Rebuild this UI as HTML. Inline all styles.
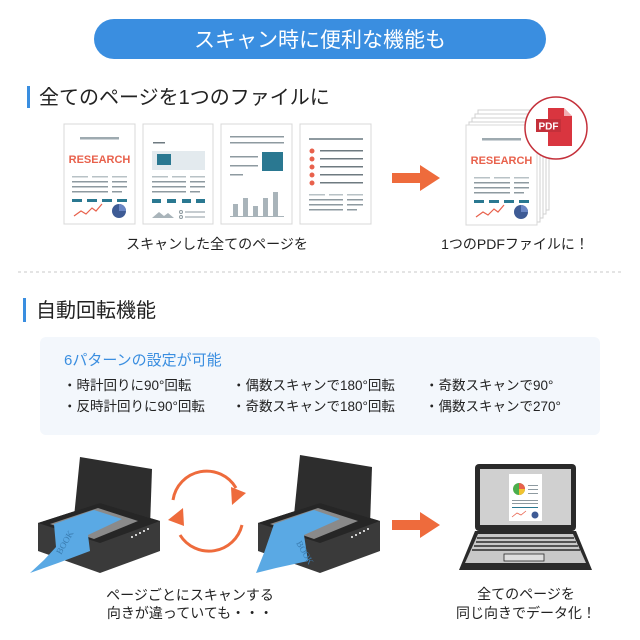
<!DOCTYPE html>
<html><head><meta charset="utf-8"><style>
body{margin:0;background:#fff;}
svg{display:block;font-family:"Liberation Sans","Noto Sans CJK JP",sans-serif;}
</style></head><body>
<svg width="640" height="640" viewBox="0 0 640 640" xmlns="http://www.w3.org/2000/svg">
<defs>
<g id="rdoc">
 <rect x="0" y="0" width="71" height="100" fill="#fff" stroke="#d8d8d8"/>
 <rect x="16" y="13" width="39" height="2.5" fill="#9eaab0"/>
 <text x="35.5" y="39" font-size="11" font-weight="bold" fill="#e8614c" text-anchor="middle" font-family="Liberation Sans,sans-serif">RESEARCH</text>
 <g fill="#b8c2c6"><rect x="8" y="52" width="16" height="1.5"/><rect x="28" y="52" width="16" height="1.5"/><rect x="48" y="52" width="15" height="1.5"/></g>
 <g fill="#8e9aa0"><rect x="8" y="57" width="36" height="1.5"/><rect x="48" y="57" width="15" height="1.5"/><rect x="8" y="62" width="36" height="1.5"/><rect x="48" y="62" width="15" height="1.5"/><rect x="8" y="67" width="36" height="1.5"/><rect x="48" y="67" width="10" height="1.5"/></g>
 <g fill="#2a7891"><rect x="8" y="75" width="10" height="3"/><rect x="23" y="75" width="10" height="3"/><rect x="38" y="75" width="10" height="3"/><rect x="53" y="75" width="10" height="3"/></g>
 <polyline points="10,92 17,87 22,90 28,84 32,87 38,80" fill="none" stroke="#e8614c" stroke-width="1.2"/>
 <circle cx="55" cy="87" r="7" fill="#3e5b95"/><path d="M55,80 A7,7 0 0 1 62,87 L55,87Z" fill="#6a86c4"/>
</g>
</defs>
<rect x="94" y="19" width="452" height="40" rx="20" fill="#3a8ee0"/>
<text x="320" y="47" font-size="21" fill="#fff" text-anchor="middle">スキャン時に便利な機能も</text>
<rect x="27" y="86" width="3" height="22" fill="#3a8ee0"/>
<text x="39" y="104" font-size="20" fill="#222">全てのページを1つのファイルに</text>
<use href="#rdoc" x="64" y="124"/>
<g transform="translate(143,124)">
 <rect width="70" height="100" fill="#fff" stroke="#d8d8d8"/>
 <rect x="10" y="18" width="12" height="1.5" fill="#6e7a80"/>
 <rect x="9" y="27" width="53" height="19" fill="#e3eaee"/><rect x="14" y="30" width="14" height="11" fill="#2a7891"/>
 <g fill="#b8c2c6"><rect x="9" y="52" width="16" height="1.5"/><rect x="29" y="52" width="14" height="1.5"/><rect x="47" y="52" width="15" height="1.5"/></g>
 <g fill="#8e9aa0"><rect x="9" y="57" width="34" height="1.5"/><rect x="47" y="57" width="15" height="1.5"/><rect x="9" y="62" width="34" height="1.5"/><rect x="47" y="62" width="15" height="1.5"/><rect x="9" y="67" width="34" height="1.5"/><rect x="47" y="67" width="10" height="1.5"/></g>
 <g fill="#2a7891"><rect x="9" y="75" width="9" height="4"/><rect x="24" y="75" width="9" height="4"/><rect x="39" y="75" width="9" height="4"/><rect x="53" y="75" width="9" height="4"/></g>
 <path d="M9,94 L16,88 L21,92 L25,89 L31,94Z" fill="#a9b4ba"/>
 <g fill="none" stroke="#8e9aa0"><circle cx="38" cy="88" r="1.5"/><circle cx="38" cy="93" r="1.5"/></g>
 <rect x="42" y="87.5" width="20" height="1" fill="#8e9aa0"/><rect x="42" y="92.5" width="20" height="1" fill="#8e9aa0"/>
</g>
<g transform="translate(221,124)">
 <rect width="71" height="100" fill="#fff" stroke="#d8d8d8"/>
 <rect x="9" y="12" width="54" height="1.5" fill="#8e9aa0"/><rect x="9" y="18" width="54" height="1.5" fill="#8e9aa0"/>
 <rect x="9" y="32" width="28" height="1.5" fill="#8e9aa0"/><rect x="9" y="41" width="28" height="1.5" fill="#8e9aa0"/><rect x="9" y="50" width="13" height="1.5" fill="#8e9aa0"/>
 <rect x="41" y="28" width="21" height="19" fill="#2a7891"/>
 <g fill="#a9b4ba"><rect x="12" y="80" width="5" height="12"/><rect x="22" y="74" width="5" height="18"/><rect x="32" y="82" width="5" height="10"/><rect x="42" y="74" width="5" height="18"/><rect x="52" y="68" width="5" height="24"/></g>
 <rect x="9" y="92" width="54" height="1" fill="#a9b4ba"/>
</g>
<g transform="translate(300,124)">
 <rect width="71" height="100" fill="#fff" stroke="#d8d8d8"/>
 <rect x="9" y="14" width="54" height="2" fill="#8e9aa0"/>
 <g fill="#e8614c"><circle cx="12" cy="27" r="2.5"/><circle cx="12" cy="35" r="2.5"/><circle cx="12" cy="43" r="2.5"/><circle cx="12" cy="51" r="2.5"/><circle cx="12" cy="59" r="2.5"/></g>
 <g fill="#6e7a80"><rect x="20" y="26" width="43" height="1.5"/><rect x="20" y="34" width="43" height="1.5"/><rect x="20" y="42" width="43" height="1.5"/><rect x="20" y="50" width="43" height="1.5"/><rect x="20" y="58" width="43" height="1.5"/></g>
 <g fill="#b8c2c6"><rect x="9" y="70" width="16" height="1.5"/><rect x="29" y="70" width="14" height="1.5"/><rect x="47" y="70" width="16" height="1.5"/></g>
 <g fill="#8e9aa0"><rect x="9" y="75" width="34" height="1.5"/><rect x="47" y="75" width="16" height="1.5"/><rect x="9" y="80" width="34" height="1.5"/><rect x="47" y="80" width="16" height="1.5"/><rect x="9" y="85" width="34" height="1.5"/><rect x="47" y="85" width="10" height="1.5"/></g>
</g>
<text x="217" y="249" font-size="14" fill="#222" text-anchor="middle">スキャンした全てのページを</text>
<path d="M392,173 L420,173 L420,165 L440,178 L420,191 L420,183 L392,183Z" fill="#ee6b3c"/>
<g fill="#fff" stroke="#d0d0d0">
 <rect x="478" y="110" width="71" height="100"/>
 <rect x="475" y="114" width="71" height="100"/>
 <rect x="472" y="118" width="71" height="100"/>
 <rect x="469" y="122" width="71" height="100"/>
</g>
<use href="#rdoc" x="466" y="125"/>
<circle cx="556" cy="128" r="31" fill="#fff" stroke="#c4303a" stroke-width="1.5"/>
<path d="M548,108 L564,108 L572,116 L572,146 L548,146Z" fill="#d9353f"/>
<path d="M564,108 L564,116 L572,116Z" fill="#fff" opacity="0.6"/>
<rect x="536" y="119" width="25" height="13" fill="#c4303a"/>
<text x="548.5" y="129.5" font-size="10" font-weight="bold" fill="#fff" text-anchor="middle" font-family="Liberation Sans,sans-serif">PDF</text>
<text x="515" y="249" font-size="14" fill="#222" text-anchor="middle">1つのPDFファイルに！</text>
<line x1="18" y1="272" x2="622" y2="272" stroke="#c8c8c8" stroke-dasharray="3,3"/>
<rect x="23" y="298" width="3" height="24" fill="#3a8ee0"/>
<text x="36" y="317" font-size="20" fill="#222">自動回転機能</text>
<rect x="40" y="337" width="560" height="98" rx="6" fill="#f3f7fc"/>
<text x="64" y="365" font-size="15" fill="#3a8ee0">6パターンの設定が可能</text>
<g font-size="13.5" fill="#222">
 <text x="63" y="390">・時計回りに90°回転</text>
 <text x="63" y="411">・反時計回りに90°回転</text>
 <text x="232" y="390">・偶数スキャンで180°回転</text>
 <text x="232" y="411">・奇数スキャンで180°回転</text>
 <text x="425" y="390">・奇数スキャンで90°</text>
 <text x="425" y="411">・偶数スキャンで270°</text>
</g>
<!-- printer 1 -->
<g transform="translate(36,455)">
 <path d="M44,2 L116,14 L114,72 L38,62Z" fill="#2d2d2d"/>
 <path d="M2,68 L64,48 L124,66 L124,96 L64,118 L2,96Z" fill="#3a3a3a"/>
 <path d="M2,68 L64,48 L124,66 L64,88Z" fill="#262626"/>
 <path d="M14,69 L62,53 L102,66 L58,84Z" fill="#8a8a8a"/>
 <path d="M18,69 L58,55 L86,64 L52,80 L54,96 L22,108 L-6,118 L8,105 L20,92Z" fill="#5aa9e4"/>
 <text x="25" y="100" font-size="9" fill="#3a7cb0" transform="rotate(-60 25 100)" font-family="Liberation Serif,serif">BOOK</text>
 <g fill="#fff"><circle cx="96" cy="82" r="1"/><circle cx="100" cy="80" r="1"/><circle cx="104" cy="78" r="1"/><circle cx="108" cy="76" r="1"/><circle cx="112" cy="74" r="1"/></g>
</g>
<g fill="none" stroke="#ee6b3c" stroke-width="3">
 <path d="M173,500 A34,34 0 0 1 236,488"/>
 <path d="M242,525 A34,34 0 0 1 180,535"/>
</g>
<path d="M246,493 L232,505 L231,487Z" fill="#ee6b3c"/>
<path d="M168,520 L183,508 L184,526Z" fill="#ee6b3c"/>
<!-- printer 2 -->
<g transform="translate(256,453)">
 <path d="M44,2 L116,14 L114,72 L38,62Z" fill="#2d2d2d"/>
 <path d="M2,70 L64,50 L124,68 L124,98 L64,120 L2,98Z" fill="#3a3a3a"/>
 <path d="M2,70 L64,50 L124,68 L64,90Z" fill="#262626"/>
 <path d="M14,71 L62,55 L102,68 L58,86Z" fill="#8a8a8a"/>
 <path d="M18,71 L58,57 L84,66 L48,82 L52,108 L20,115 L0,120 L8,100Z" fill="#5aa9e4"/>
 <text x="40" y="90" font-size="9" fill="#3a7cb0" transform="rotate(60 40 90)" font-family="Liberation Serif,serif">BOOK</text>
 <g fill="#fff"><circle cx="96" cy="84" r="1"/><circle cx="100" cy="82" r="1"/><circle cx="104" cy="80" r="1"/><circle cx="108" cy="78" r="1"/><circle cx="112" cy="76" r="1"/></g>
</g>
<text x="190" y="600" font-size="14" fill="#222" text-anchor="middle">ページごとにスキャンする</text>
<text x="190" y="618" font-size="14" fill="#222" text-anchor="middle">向きが違っていても・・・</text>
<path d="M392,520 L420,520 L420,512 L440,525 L420,538 L420,530 L392,530Z" fill="#ee6b3c"/>
<rect x="475" y="464" width="101" height="67" rx="4" fill="#2a2a2a"/>
<rect x="480" y="469" width="91" height="56" fill="#d0d0d0"/>
<rect x="509" y="474" width="33" height="47" fill="#fff"/>
<circle cx="519" cy="489" r="6" fill="#4cae4c"/><path d="M519,483 A6,6 0 0 1 525,489 L519,489Z" fill="#e8614c"/><path d="M519,489 L525,489 A6,6 0 0 1 519,495Z" fill="#f2c230"/>
<g fill="#8e9aa0"><rect x="528" y="485" width="10" height="1"/><rect x="528" y="489" width="10" height="1"/><rect x="528" y="493" width="10" height="1"/><rect x="512" y="500" width="26" height="1"/><rect x="512" y="503" width="26" height="1"/></g>
<rect x="512" y="507" width="26" height="1" fill="#2a7891"/>
<circle cx="535" cy="515" r="3.5" fill="#3e5b95"/>
<polyline points="512,517 517,513 521,515 526,511" fill="none" stroke="#e8614c" stroke-width="0.8"/>
<path d="M475,531 L576,531 L592,570 L459,570Z" fill="#2a2a2a"/>
<path d="M478,534 L573,534 L586,563 L465,563Z" fill="#c8c8c8"/>
<g stroke="#2a2a2a" stroke-width="1.6"><line x1="477" y1="538" x2="574" y2="538"/><line x1="476" y1="542" x2="576" y2="542"/><line x1="474" y1="546" x2="578" y2="546"/><line x1="472" y1="550" x2="580" y2="550"/></g>
<rect x="504" y="554" width="40" height="7" fill="#ddd" stroke="#2a2a2a" stroke-width="0.8"/>
<text x="526" y="599" font-size="14" fill="#222" text-anchor="middle">全てのページを</text>
<text x="526" y="618" font-size="14" fill="#222" text-anchor="middle">同じ向きでデータ化！</text>
</svg>
</body></html>
